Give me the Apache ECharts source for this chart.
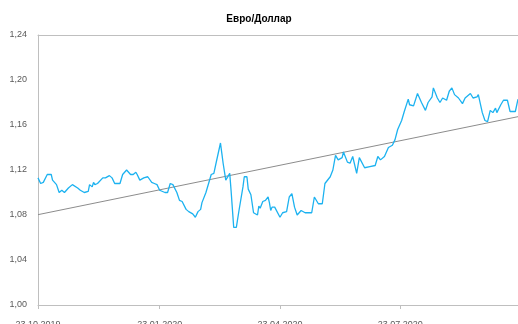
<!DOCTYPE html>
<html>
<head>
<meta charset="utf-8">
<script src="https://cdn.jsdelivr.net/npm/echarts@6/dist/echarts.min.js"></script>
<style>
    html, body { margin: 0; padding: 0; background: #fff; }
    #chart { width: 518px; height: 324px; }
</style>
</head>
<body>
<div id="chart"></div>
<script>
// курс евро/доллар
var dates = [
    '2019-10-23', '2019-10-25', '2019-10-27', '2019-10-30', '2019-11-02', '2019-11-03', '2019-11-06', '2019-11-08',
    '2019-11-10', '2019-11-12', '2019-11-15', '2019-11-18', '2019-11-19', '2019-11-22', '2019-11-24', '2019-11-27',
    '2019-11-30', '2019-12-01', '2019-12-03', '2019-12-04', '2019-12-05', '2019-12-07', '2019-12-11', '2019-12-13',
    '2019-12-16', '2019-12-18', '2019-12-20', '2019-12-24', '2019-12-26', '2019-12-29', '2020-01-01', '2020-01-03',
    '2020-01-05', '2020-01-06', '2020-01-08', '2020-01-11', '2020-01-14', '2020-01-17', '2020-01-19', '2020-01-21',
    '2020-01-23', '2020-01-27', '2020-01-29', '2020-01-31', '2020-02-02', '2020-02-05', '2020-02-07', '2020-02-09',
    '2020-02-12', '2020-02-14', '2020-02-17', '2020-02-19', '2020-02-21', '2020-02-23', '2020-02-24', '2020-02-27',
    '2020-02-28', '2020-03-02', '2020-03-04', '2020-03-05', '2020-03-06', '2020-03-07', '2020-03-09', '2020-03-10',
    '2020-03-11', '2020-03-13', '2020-03-14', '2020-03-16', '2020-03-17', '2020-03-19', '2020-03-21', '2020-03-23',
    '2020-03-26', '2020-03-27', '2020-03-29', '2020-03-30', '2020-04-01', '2020-04-03', '2020-04-06', '2020-04-07',
    '2020-04-08', '2020-04-10', '2020-04-12', '2020-04-14', '2020-04-15', '2020-04-16', '2020-04-17', '2020-04-19',
    '2020-04-23', '2020-04-25', '2020-04-28', '2020-04-30', '2020-05-02', '2020-05-04', '2020-05-06', '2020-05-09',
    '2020-05-12', '2020-05-14', '2020-05-17', '2020-05-19', '2020-05-22', '2020-05-25', '2020-05-27', '2020-05-31',
    '2020-06-02', '2020-06-04', '2020-06-06', '2020-06-09', '2020-06-10', '2020-06-13', '2020-06-15', '2020-06-17',
    '2020-06-20', '2020-06-22', '2020-06-26', '2020-06-30', '2020-07-04', '2020-07-06', '2020-07-08', '2020-07-11',
    '2020-07-14', '2020-07-17', '2020-07-19', '2020-07-21', '2020-07-24', '2020-07-26', '2020-07-29', '2020-07-30',
    '2020-08-02', '2020-08-03', '2020-08-05', '2020-08-08', '2020-08-11', '2020-08-13', '2020-08-16', '2020-08-17',
    '2020-08-20', '2020-08-22', '2020-08-24', '2020-08-27', '2020-08-29', '2020-08-31', '2020-09-02', '2020-09-05',
    '2020-09-08', '2020-09-10', '2020-09-14', '2020-09-16', '2020-09-19', '2020-09-20', '2020-09-23', '2020-09-25',
    '2020-09-27', '2020-09-29', '2020-10-01', '2020-10-03', '2020-10-04', '2020-10-07', '2020-10-09', '2020-10-12',
    '2020-10-14', '2020-10-18', '2020-10-20'
];
var rates = [
    1.113, 1.108, 1.109, 1.116, 1.116, 1.111, 1.107, 1.100,
    1.102, 1.100, 1.104, 1.107, 1.108, 1.104, 1.102, 1.100,
    1.101, 1.107, 1.105, 1.109, 1.107, 1.108, 1.113, 1.113,
    1.115, 1.113, 1.108, 1.108, 1.116, 1.120, 1.116, 1.116,
    1.118, 1.116, 1.111, 1.113, 1.114, 1.109, 1.108, 1.107,
    1.102, 1.100, 1.100, 1.108, 1.107, 1.100, 1.093, 1.092,
    1.085, 1.083, 1.081, 1.078, 1.083, 1.085, 1.091, 1.100,
    1.100, 1.116, 1.117, 1.117, 1.128, 1.129, 1.144, 1.135,
    1.126, 1.111, 1.111, 1.117, 1.102, 1.069, 1.069, 1.084,
    1.105, 1.114, 1.114, 1.103, 1.098, 1.082, 1.080, 1.088,
    1.086, 1.092, 1.093, 1.096, 1.091, 1.084, 1.087, 1.087,
    1.078, 1.082, 1.083, 1.096, 1.099, 1.087, 1.080, 1.084,
    1.082, 1.082, 1.082, 1.096, 1.090, 1.090, 1.108, 1.114,
    1.120, 1.133, 1.129, 1.131, 1.136, 1.127, 1.126, 1.132,
    1.117, 1.131, 1.122, 1.123, 1.124, 1.132, 1.129, 1.132,
    1.140, 1.142, 1.147, 1.156, 1.164, 1.172, 1.183, 1.178,
    1.177, 1.177, 1.188, 1.180, 1.173, 1.180, 1.185, 1.193,
    1.184, 1.180, 1.184, 1.182, 1.190, 1.193, 1.187, 1.184,
    1.179, 1.184, 1.188, 1.184, 1.185, 1.187, 1.171, 1.164,
    1.163, 1.173, 1.171, 1.175, 1.171, 1.178, 1.182, 1.182,
    1.172, 1.172, 1.183
];
// линия тренда (начало и конец)
var trendDates = ['2019-10-23', '2020-10-20'];
var trendValues = [1.0803, 1.1674];

var xTickDates = ['2019-10-23', '2020-01-23', '2020-04-23', '2020-07-23'];
var yTicks = [1.00, 1.04, 1.08, 1.12, 1.16, 1.20, 1.24];

function toTime(s) {
    var p = s.split('-');
    return new Date(+p[0], +p[1] - 1, +p[2]).getTime();
}
function pad(n) {
    return n < 10 ? '0' + n : '' + n;
}

var lineData = [];
for (var i = 0; i < dates.length; i++) {
    lineData.push([toTime(dates[i]), rates[i]]);
}
var trendData = [];
for (var j = 0; j < trendDates.length; j++) {
    trendData.push([toTime(trendDates[j]), trendValues[j]]);
}
var xTicks = xTickDates.map(toTime);
var xMin = toTime(trendDates[0]);
var xMax = toTime(trendDates[1]);

var chart = echarts.init(document.getElementById('chart'));
chart.setOption({
    animation: false,
    title: {
        text: 'Евро/Доллар',
        left: 'center',
        top: 9,
        textStyle: {
            fontFamily: 'Liberation Sans',
            fontWeight: 'bold',
            fontSize: 10,
            color: '#000'
        }
    },
    grid: {
        left: 38,
        top: 35,
        right: 0,
        bottom: 19,
        containLabel: false,
        outerBoundsMode: 'none'
    },
    xAxis: [
        {
            type: 'value',
            min: xMin,
            max: xMax,
            splitLine: { show: false },
            axisLine: { show: true, lineStyle: { color: '#bfbfbf', width: 1 } },
            axisTick: {
                show: true,
                length: 4,
                customValues: xTicks,
                lineStyle: { color: '#bfbfbf' }
            },
            axisLabel: {
                customValues: xTicks,
                margin: 15,
                fontFamily: 'Liberation Sans',
                fontSize: 9,
                color: '#595959',
                formatter: function (v) {
                    var d = new Date(v);
                    return pad(d.getDate()) + '.' + pad(d.getMonth() + 1) + '.' + d.getFullYear();
                }
            }
        },
        {
            // верхняя граница области построения
            type: 'value',
            position: 'top',
            min: xMin,
            max: xMax,
            splitLine: { show: false },
            axisLine: { show: true, lineStyle: { color: '#bfbfbf', width: 1 } },
            axisTick: { show: false },
            axisLabel: { show: false }
        }
    ],
    yAxis: {
        type: 'value',
        min: yTicks[0],
        max: yTicks[yTicks.length - 1],
        interval: 0.04,
        splitLine: { show: false },
        axisLine: { show: true, lineStyle: { color: '#bfbfbf', width: 1 } },
        axisTick: { show: false },
        axisLabel: {
            margin: 11,
            fontFamily: 'Liberation Sans',
            fontSize: 9,
            color: '#595959',
            formatter: function (v) {
                return v.toFixed(2).replace('.', ',');
            }
        }
    },
    series: [
        {
            name: 'Евро/Доллар',
            type: 'line',
            data: lineData,
            showSymbol: false,
            lineStyle: { color: '#1cb2f0', width: 1.3 },
            z: 3
        },
        {
            name: 'Тренд',
            type: 'line',
            data: trendData,
            showSymbol: false,
            lineStyle: { color: '#8c8c8c', width: 1 },
            z: 2
        }
    ]
});
</script>
</body>
</html>
